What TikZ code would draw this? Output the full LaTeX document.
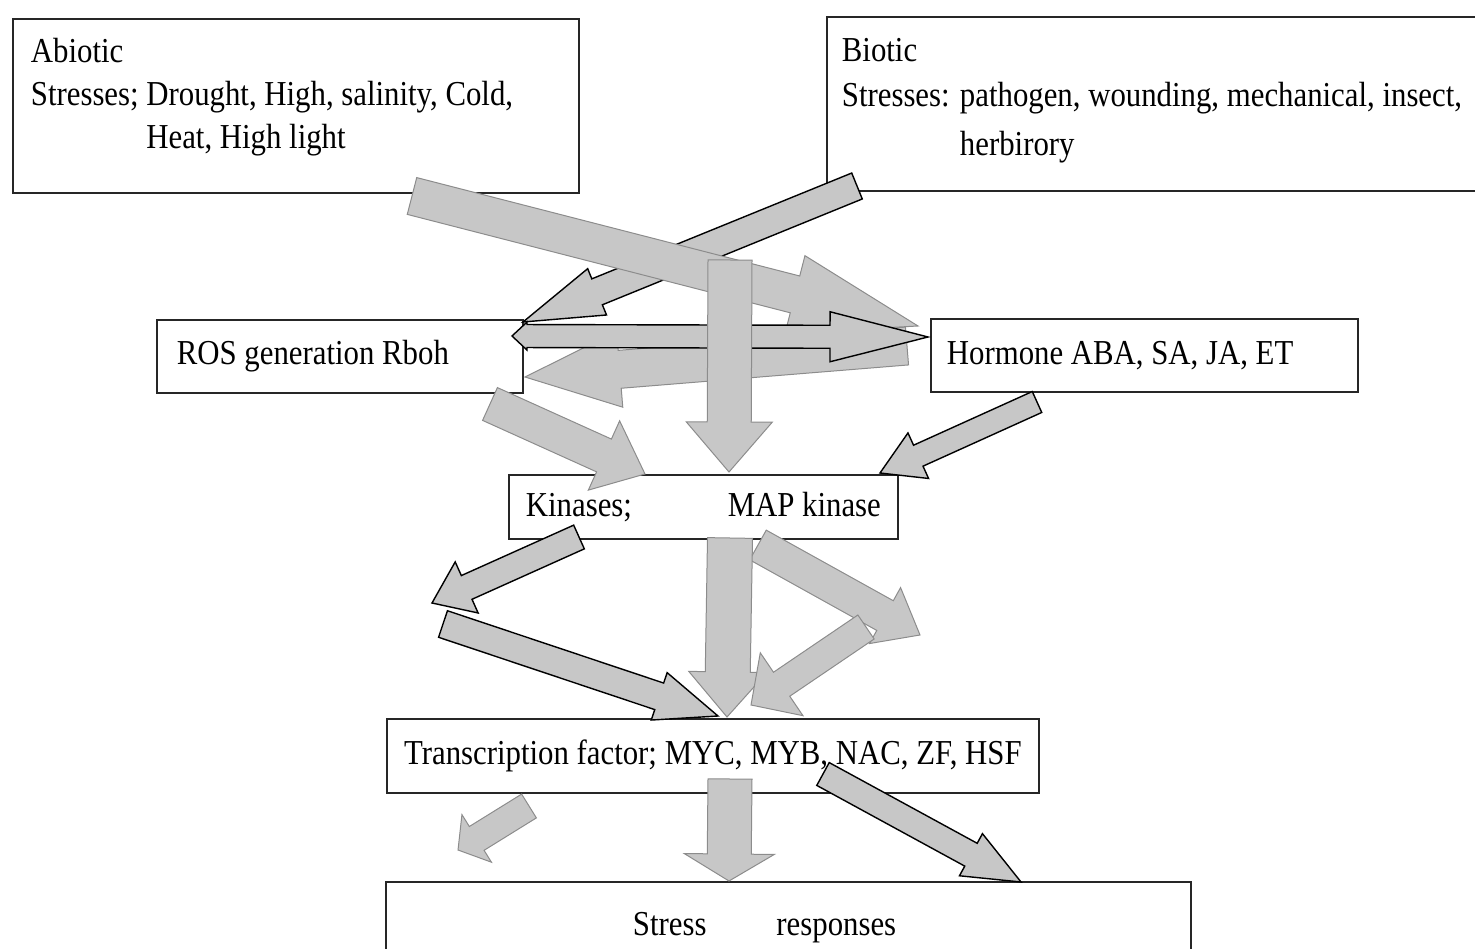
\documentclass[tikz,border=0pt]{standalone}
\usepackage{fontspec}
\setmainfont{Liberation Serif}[FakeStretch=0.88]
\usetikzlibrary{calc}

% block arrow: [style]{tail}{tip}{shaft half width}{head half width}{head length}
\newcommand{\blockarrow}[6][]{%
  \coordinate (hb) at ($(#3)!#6pt!(#2)$);
  \draw[#1] ($(#2)!#4pt!90:(#3)$) -- ($(hb)!#4pt!90:(#3)$)
    -- ($(hb)!#5pt!90:(#3)$) -- (#3) -- ($(hb)!#5pt!-90:(#3)$)
    -- ($(hb)!#4pt!-90:(#3)$) -- ($(#2)!#4pt!-90:(#3)$) -- cycle;}
% two-headed: [style]{tip A}{tip B}{shaft half width}{head A half width}{head A length}{head B half width}{head B length}
\newcommand{\dblockarrow}[8][]{%
  \coordinate (hl) at ($(#2)!#6pt!(#3)$);
  \coordinate (hr) at ($(#3)!#8pt!(#2)$);
  \draw[#1] (#2) -- ($(hl)!#5pt!90:(#3)$) -- ($(hl)!#4pt!90:(#3)$)
    -- ($(hr)!#4pt!-90:(#2)$) -- ($(hr)!#7pt!-90:(#2)$) -- (#3)
    -- ($(hr)!#7pt!90:(#2)$) -- ($(hr)!#4pt!90:(#2)$)
    -- ($(hl)!#4pt!-90:(#3)$) -- ($(hl)!#5pt!-90:(#3)$) -- cycle;}

\begin{document}
\begin{tikzpicture}[x=1pt, y=-1pt,
    font=\fontsize{35pt}{43pt}\selectfont,
    box/.style={draw=black!85, line width=1.8pt, fill=white, inner sep=0pt,
                anchor=north west},
    garrow/.style={fill=black!22, draw=black!45, line width=1pt},
    barrow/.style={fill=black!22, draw=black, line width=1.4pt}
  ]
  \clip (0,0) rectangle (1475,949);

  % ---- boxes ----
  \node[box, inner xsep=18pt, text width=530pt, minimum height=174pt,
        text depth=112pt, align=flush left] (abio) at (12,18)
    {Abiotic\\Stresses; Drought, High, salinity, Cold,\\
     \hphantom{Stresses; }Heat, High light};
  \node[box, inner xsep=15pt, text width=680pt, minimum height=174pt,
        text depth=108pt, align=flush left] (bio) at (826,16)
    {Biotic\\[2pt]Stresses: pathogen, wounding, mechanical, insect,\\[6pt]
     \hphantom{Stresses: }herbirory};
  \node[box, inner xsep=20pt, text width=326pt, minimum height=73pt,
        align=flush left] (ros) at (156,319) {ROS generation Rboh};
  \node[box, inner xsep=16pt, text width=395pt, minimum height=73pt,
        align=flush left] (horm) at (930,318) {Hormone ABA, SA, JA, ET};
  \node[box, inner xsep=17pt, text width=355pt, minimum height=64pt,
        align=flush left] (kin) at (508,474)
    {Kinases;\hspace{0pt plus 1filll}MAP kinase};
  \node[box, minimum width=652pt, minimum height=74pt] (tf) at (386,718)
    {Transcription factor; MYC, MYB, NAC, ZF, HSF};
  \node[box, inner xsep=247pt, text width=311pt, minimum height=92pt,
        align=flush left] (resp) at (385,881) {Stress\hspace{70pt}responses};

  % ---- arrow ends ----
  \coordinate (abiT) at (412,196);  \coordinate (abiH) at (918,326);
  \coordinate (bioT) at (857,186);  \coordinate (bioH) at (523,322);
  \coordinate (dblL) at (512,336);  \coordinate (dblR) at (928,337);
  \coordinate (topT) at (730,260);  \coordinate (topH) at (729,472);
  \coordinate (horT) at (907,346);  \coordinate (horH) at (525,377);
  \coordinate (rosT) at (490,404);  \coordinate (rosH) at (645,474);
  \coordinate (hkT)  at (1037,402); \coordinate (hkH)  at (880,473);
  \coordinate (klT)  at (579,537);  \coordinate (klH)  at (432,603);
  \coordinate (ltT)  at (443,624);  \coordinate (ltH)  at (718,716);
  \coordinate (kdT)  at (730,538);  \coordinate (kdH)  at (727,717);
  \coordinate (krT)  at (758,545);  \coordinate (krH)  at (920,635);
  \coordinate (rtT)  at (866,627);  \coordinate (rtH)  at (751,705);
  \coordinate (tlT)  at (529,806);  \coordinate (tlH)  at (458,850);
  \coordinate (tdT)  at (730,779);  \coordinate (tdH)  at (729,881);
  \coordinate (trT)  at (823,774);  \coordinate (trH)  at (1021,882);

  % ---- stresses to ROS / hormone ----
  \blockarrow[barrow]{bioT}{bioH}{14}{25}{80}
  \blockarrow[garrow]{horT}{horH}{19}{38}{95}
  \blockarrow[garrow]{abiT}{abiH}{19}{40}{127}
  \dblockarrow[barrow]{dblL}{dblR}{11.5}{14}{15}{25}{98}
  \blockarrow[garrow]{topT}{topH}{22}{43}{50}

  % ---- into kinases ----
  \blockarrow[garrow]{rosT}{rosH}{18}{38}{45}
  \blockarrow[barrow]{hkT}{hkH}{11.5}{25}{42}

  % ---- kinases to transcription factor ----
  \blockarrow[barrow]{ltT}{ltH}{14}{25}{62}
  \blockarrow[barrow]{klT}{klH}{13}{28}{38}
  \blockarrow[garrow]{krT}{krH}{17}{32}{40}
  \blockarrow[garrow]{kdT}{kdH}{22.5}{39}{45}
  \blockarrow[garrow]{rtT}{rtH}{14.5}{38}{37}

  % ---- transcription factor to responses ----
  \blockarrow[garrow]{tlT}{tlH}{14}{28}{22}
  \blockarrow[garrow]{tdT}{tdH}{22}{45}{27}
  \blockarrow[barrow]{trT}{trH}{13}{24}{57}

\end{tikzpicture}
\end{document}
